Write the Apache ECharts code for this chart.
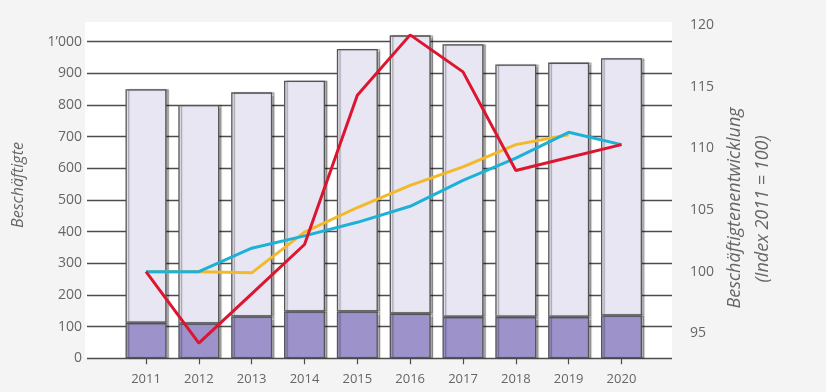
<!DOCTYPE html>
<html>
<head>
<meta charset="utf-8">
<script src="https://cdn.jsdelivr.net/npm/echarts@6/dist/echarts.min.js"></script>
<style>
  html, body { margin: 0; padding: 0; background: #f4f4f4; }
  #chart { width: 826px; height: 392px; }
</style>
</head>
<body>
<div id="chart"></div>
<script>
// Jahre
const years = ['2011', '2012', '2013', '2014', '2015', '2016', '2017', '2018', '2019', '2020'];

// Beschäftigte: Gesamtzahl und unterer (dunkler) Anteil
const employedTotal = [850, 800, 840, 877, 977, 1020, 992, 928, 934, 948];
const employedBase  = [112, 110, 132, 148, 148, 141, 131, 131, 131, 135];

// Beschäftigtenentwicklung (Index 2011 = 100)
const indexRed    = [100, 94.2, 98.2, 102.2, 114.3, 119.2, 116.2, 108.2, 109.25, 110.3];
const indexYellow = [100, 100, 99.9, 103.2, 105.2, 107.0, 108.5, 110.3, 111.1, null];
const indexCyan   = [100, 100, 101.9, 102.9, 104.0, 105.3, 107.4, 109.2, 111.3, 110.3];

// Achsenbeschriftungen
const countTickLabels = ['0', '100', '200', '300', '400', '500', '600', '700', '800', '900', '1\u2019000'];
const indexTickLabels = ['95', '100', '105', '110', '115', '120'];

const employedUpper = employedTotal.map((t, i) => t - employedBase[i]);

const textGray = '#666';
const lineGray = '#4d4d4d';
const font = 'Open Sans';

const chart = echarts.init(document.getElementById('chart'), null, { renderer: 'canvas' });

const barStyle = (color) => ({
  color: color,
  borderColor: '#555',
  borderWidth: 1.3,
  shadowColor: 'rgba(0,0,0,0.3)',
  shadowOffsetX: 2.5,
  shadowOffsetY: 0,
  shadowBlur: 1
});

chart.setOption({
  backgroundColor: '#f4f4f4',
  animation: false,
  grid: [
    // weißer Zeichenbereich
    { left: 85, right: 154, top: 22, bottom: 33.7, show: true, backgroundColor: '#ffffff', borderWidth: 0, z: -1 },
    // Gitterlinien + linke Achse
    { left: 87, right: 154, top: 41.7, bottom: 33.7 },
    // Balken
    { left: 119.6, right: 178.1, top: 41.7, bottom: 33.7 },
    // Indexlinien + rechte Achse
    { left: 119.6, right: 178.1, top: 25, bottom: 58.7 }
  ],
  xAxis: [
    { gridIndex: 0, type: 'category', data: years, show: false },
    { gridIndex: 1, type: 'category', data: years, show: false },
    {
      gridIndex: 2, type: 'category', data: years,
      axisLine: { show: false },
      axisTick: { show: true, alignWithLabel: true, length: 6, lineStyle: { color: lineGray, width: 1.2 } },
      axisLabel: { color: textGray, fontFamily: font, fontSize: 13, margin: 14 }
    },
    { gridIndex: 3, type: 'category', data: years, show: false }
  ],
  yAxis: [
    { gridIndex: 0, type: 'value', show: false },
    {
      gridIndex: 1, type: 'value', min: 0, max: 1000, interval: 100, z: 1,
      axisLine: { show: false }, axisTick: { show: false },
      axisLabel: {
        color: textGray, fontFamily: font, fontSize: 14, margin: 5,
        formatter: (v) => countTickLabels[Math.round(v / 100)]
      },
      splitLine: { show: true, lineStyle: { color: lineGray, width: 1.3 } }
    },
    {
      gridIndex: 2, type: 'value', min: 0, max: 1000, interval: 100,
      axisLine: { show: false }, axisTick: { show: false }, axisLabel: { show: false }, splitLine: { show: false }
    },
    {
      gridIndex: 3, type: 'value', position: 'right', min: 95, max: 120, interval: 5,
      axisLine: { show: false }, axisTick: { show: false }, splitLine: { show: false },
      axisLabel: {
        color: textGray, fontFamily: font, fontSize: 14, margin: 42, align: 'left',
        formatter: (v) => indexTickLabels[Math.round((v - 95) / 5)]
      }
    }
  ],
  series: [
    {
      name: 'Basis', type: 'bar', stack: 'b', xAxisIndex: 2, yAxisIndex: 2, z: 2, clip: false,
      barWidth: 41, data: employedBase, itemStyle: barStyle('#9d93ca')
    },
    {
      name: 'Übrige', type: 'bar', stack: 'b', xAxisIndex: 2, yAxisIndex: 2, z: 2, clip: false,
      barWidth: 41, data: employedUpper, itemStyle: barStyle('#e8e6f2')
    },
    {
      name: 'Gelb', type: 'line', xAxisIndex: 3, yAxisIndex: 3, z: 3, clip: false,
      data: indexYellow, symbol: 'none', lineStyle: { color: '#f3b929', width: 3 }
    },
    {
      name: 'Cyan', type: 'line', xAxisIndex: 3, yAxisIndex: 3, z: 4, clip: false,
      data: indexCyan, symbol: 'none', lineStyle: { color: '#1db1d8', width: 3 }
    },
    {
      name: 'Rot', type: 'line', xAxisIndex: 3, yAxisIndex: 3, z: 5, clip: false,
      data: indexRed, symbol: 'none', lineStyle: { color: '#dc1530', width: 3 }
    }
  ],
  graphic: [
    {
      type: 'text', x: 18, y: 185, rotation: Math.PI / 2,
      style: { text: 'Beschäftigte', fill: textGray, font: 'italic 16px "Open Sans"', textAlign: 'center', textVerticalAlign: 'middle' }
    },
    {
      type: 'text', x: 735, y: 208, rotation: Math.PI / 2,
      style: { text: 'Beschäftigtenentwicklung', fill: textGray, font: 'italic 18px "Open Sans"', textAlign: 'center', textVerticalAlign: 'middle' }
    },
    {
      type: 'text', x: 763, y: 209, rotation: Math.PI / 2,
      style: { text: '(Index 2011 = 100)', fill: textGray, font: 'italic 18px "Open Sans"', textAlign: 'center', textVerticalAlign: 'middle' }
    }
  ]
});
</script>
</body>
</html>
